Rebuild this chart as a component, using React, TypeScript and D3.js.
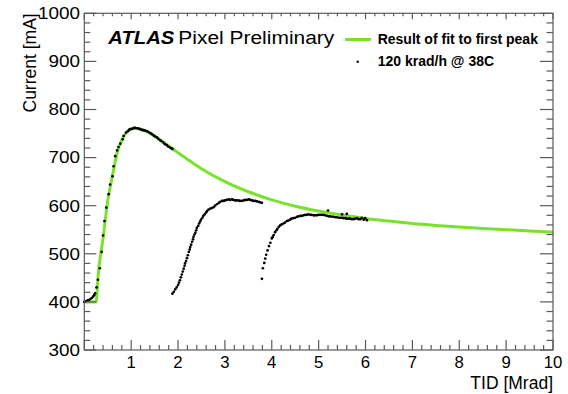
import React from "react";
import * as d3 from "d3";

const xMajorTicks = [0, 1, 2, 3, 4, 5, 6, 7, 8, 9, 10];
const xTickLabels = ["", "1", "2", "3", "4", "5", "6", "7", "8", "9", "10"];
const yMajorTicks = [300, 400, 500, 600, 700, 800, 900, 1000];
const yTickLabels = ["300", "400", "500", "600", "700", "800", "900", "1000"];

// Result of fit to first peak
const fitX = [0.02, 0.25, 0.3, 0.4, 0.5, 0.6, 0.7, 0.8, 0.9, 1.0, 1.1, 1.2, 1.4, 1.6, 1.8, 2.0, 2.5, 3.0, 3.5, 4.0, 4.5, 5.0, 5.5, 6.0, 6.5, 7.0, 7.5, 8.0, 8.5, 9.0, 9.5, 10.0];
const fitY = [400, 400, 460, 532, 610, 662, 710, 737, 752, 759, 761, 759, 751, 738, 724, 710, 677, 650, 629, 612, 599, 589, 580.5, 573.5, 568, 563, 559, 555.5, 552.5, 550, 547.5, 545];

// 120 krad/h @ 38C — first run
const run1X = [0.0, 0.03, 0.07, 0.1, 0.13, 0.16, 0.19, 0.21, 0.23, 0.26, 0.29, 0.33, 0.37, 0.4, 0.43, 0.47, 0.52, 0.55, 0.6, 0.625, 0.66, 0.7, 0.73, 0.77, 0.82, 0.84, 0.89, 0.93, 0.96, 0.98, 1.01, 1.03, 1.06, 1.08, 1.11, 1.14, 1.17, 1.19, 1.22, 1.25, 1.27, 1.3, 1.34, 1.37, 1.41, 1.44, 1.48, 1.51, 1.55, 1.58, 1.62, 1.65, 1.69, 1.72, 1.76, 1.79, 1.83, 1.86, 1.88];
const run1Y = [400, 401, 403, 404, 406, 408, 411, 414, 418, 430, 446, 470, 504, 538, 568, 596, 624, 644, 661, 682, 703, 715, 722, 729, 738, 745, 752, 755, 758, 759, 760, 760, 762, 762, 761, 761, 760, 759, 758, 757, 757, 756, 755, 753, 751, 749, 746, 744, 742, 739, 736, 734, 731, 728, 726, 723, 721, 719, 718];

// second run
const run2X = [1.88, 1.91, 1.94, 1.97, 2.0, 2.02, 2.04, 2.06, 2.08, 2.1, 2.12, 2.14, 2.15, 2.17, 2.19, 2.21, 2.23, 2.25, 2.26, 2.28, 2.3, 2.32, 2.33, 2.35, 2.37, 2.39, 2.4, 2.43, 2.45, 2.47, 2.49, 2.52, 2.54, 2.57, 2.6, 2.62, 2.65, 2.69, 2.72, 2.76, 2.79, 2.83, 2.87, 2.9, 2.94, 2.97, 3.0, 3.04, 3.08, 3.11, 3.15, 3.18, 3.22, 3.25, 3.29, 3.32, 3.36, 3.4, 3.43, 3.47, 3.51, 3.54, 3.58, 3.61, 3.65, 3.68, 3.72, 3.75, 3.79];
const run2Y = [417, 421, 426, 430, 435, 440, 445, 451, 457, 463, 469, 475, 480, 485, 491, 497, 504, 509, 514, 519, 525, 530, 535, 540, 544, 549, 554, 558, 563, 567, 571, 575, 579, 582, 586, 589, 592, 594, 595, 597, 600, 603, 606, 608, 610, 610, 611, 612, 613, 612, 613, 612, 611, 611, 611, 610, 610, 611, 612, 612, 613, 612, 611, 610, 610, 609, 608, 607, 606];

// third run
const run3X = [3.79, 3.81, 3.84, 3.86, 3.88, 3.91, 3.94, 3.97, 4.0, 4.02, 4.04, 4.07, 4.1, 4.12, 4.15, 4.18, 4.21, 4.25, 4.28, 4.32, 4.35, 4.39, 4.42, 4.46, 4.5, 4.54, 4.57, 4.61, 4.64, 4.68, 4.71, 4.75, 4.78, 4.82, 4.85, 4.89, 4.92, 4.96, 4.99, 5.03, 5.07, 5.11, 5.14, 5.18, 5.2, 5.22, 5.25, 5.29, 5.32, 5.36, 5.39, 5.43, 5.46, 5.5, 5.5, 5.53, 5.57, 5.6, 5.6, 5.64, 5.67, 5.71, 5.75, 5.78, 5.82, 5.85, 5.89, 5.92, 5.96, 5.99, 6.03];
const run3Y = [448, 470, 481, 490, 498, 507, 516, 523, 532, 535, 539, 545, 549, 552, 556, 559, 561, 563, 565, 568, 569, 571, 573, 574, 575, 577, 578, 579, 579, 580, 581, 581, 582, 581, 581, 580, 580, 580, 581, 581, 581, 581, 580, 579, 590, 578, 578, 577, 577, 576, 576, 575, 575, 582, 575, 574, 574, 583, 573, 573, 573, 572, 572, 573, 574, 572, 572, 575, 571, 574, 570];

const W = 568;
const H = 394;
const L = 84.3, R = 553, T = 13.3, B = 350;
const GREEN = "#7ae22c";
const AXIS = "#5a5a5a";
const FONT = "'Liberation Sans', Arial, Helvetica, sans-serif";

export default function App() {
  const x = d3.scaleLinear().domain([0, 10]).range([L, R]);
  const y = d3.scaleLinear().domain([300, 1000]).range([B, T]);

  const xMinor = d3.range(0, 50).map((i) => i * 0.2).filter((v) => Math.abs(v - Math.round(v)) > 1e-6);
  const yMinor = d3.range(300, 1000, 20).filter((v) => v % 100 !== 0);

  const fitLine = d3
    .line<number>()
    .x((_, i) => x(fitX[i]))
    .y((_, i) => y(fitY[i]))
    .curve(d3.curveMonotoneX);
  const fitPath = fitLine(fitX) || "";

  const runs = [
    { xs: run1X, ys: run1Y },
    { xs: run2X, ys: run2Y },
    { xs: run3X, ys: run3Y },
  ];

  return (
    <svg width={W} height={H} style={{ position: "absolute", left: 0, top: 0, background: "#fff" }} fontFamily={FONT}>
      <rect x={0} y={0} width={W} height={H} fill="#fff" />
      {/* fit curve */}
      <path d={fitPath} fill="none" stroke={GREEN} strokeWidth={3} />
      {/* data points */}
      {runs.map((r, k) =>
        r.xs.map((v, i) => <circle key={`${k}-${i}`} cx={x(v)} cy={y(r.ys[i])} r={1.35} fill="#000" />)
      )}
      {/* frame */}
      <rect x={L} y={T} width={R - L} height={B - T} fill="none" stroke={AXIS} strokeWidth={1.2} />
      {/* x ticks */}
      {xMajorTicks.map((v) => (
        <g key={`xm${v}`}>
          <line x1={x(v)} x2={x(v)} y1={B} y2={B - 10} stroke={AXIS} strokeWidth={1.2} />
          <line x1={x(v)} x2={x(v)} y1={T} y2={T + 6} stroke={AXIS} strokeWidth={1.2} />
        </g>
      ))}
      {xMinor.map((v) => (
        <g key={`xn${v}`}>
          <line x1={x(v)} x2={x(v)} y1={B} y2={B - 5} stroke={AXIS} strokeWidth={1.2} />
          <line x1={x(v)} x2={x(v)} y1={T} y2={T + 3} stroke={AXIS} strokeWidth={1.2} />
        </g>
      ))}
      {/* y ticks */}
      {yMajorTicks.map((v) => (
        <g key={`ym${v}`}>
          <line x1={L} x2={L + 12} y1={y(v)} y2={y(v)} stroke={AXIS} strokeWidth={1.2} />
          <line x1={R} x2={R - 13} y1={y(v)} y2={y(v)} stroke={AXIS} strokeWidth={1.2} />
        </g>
      ))}
      {yMinor.map((v) => (
        <g key={`yn${v}`}>
          <line x1={L} x2={L + 6} y1={y(v)} y2={y(v)} stroke={AXIS} strokeWidth={1.2} />
          <line x1={R} x2={R - 6.5} y1={y(v)} y2={y(v)} stroke={AXIS} strokeWidth={1.2} />
        </g>
      ))}
      {/* tick labels */}
      {xMajorTicks.map((v, i) =>
        xTickLabels[i] ? (
          <text key={`xl${v}`} x={x(v)} y={368} textAnchor="middle" fontSize={16.5} textLength={xTickLabels[i].length * 9.3} lengthAdjust="spacingAndGlyphs" fill="#000">
            {xTickLabels[i]}
          </text>
        ) : null
      )}
      {yMajorTicks.map((v, i) => (
        <text key={`yl${v}`} x={80} y={y(v) + 5.8} textAnchor="end" fontSize={16.5} textLength={yTickLabels[i].length * 10.5} lengthAdjust="spacingAndGlyphs" fill="#000">
          {yTickLabels[i]}
        </text>
      ))}
      {/* axis titles */}
      <text x={553} y={389} textAnchor="end" fontSize={17.5} fill="#000">TID [Mrad]</text>
      <text transform={`translate(36,${T}) rotate(-90)`} textAnchor="end" fontSize={17.5} fill="#000">Current [mA]</text>
      {/* ATLAS label */}
      <text x={108.3} y={43.5} fontSize={18} fontWeight="bold" fontStyle="italic" textLength={66} lengthAdjust="spacingAndGlyphs" fill="#000">ATLAS</text>
      <text x={178.3} y={43.5} fontSize={18} textLength={156} lengthAdjust="spacingAndGlyphs" fill="#000">Pixel Preliminary</text>
      {/* legend */}
      <line x1={345} x2={371} y1={39.5} y2={39.5} stroke={GREEN} strokeWidth={3} />
      <text x={377.7} y={44} fontSize={14} fontWeight="bold" fill="#000">Result of fit to first peak</text>
      <circle cx={357.7} cy={61.7} r={1.2} fill="#000" />
      <text x={377.7} y={66} fontSize={14} fontWeight="bold" fill="#000">120 krad/h @ 38C</text>
    </svg>
  );
}
